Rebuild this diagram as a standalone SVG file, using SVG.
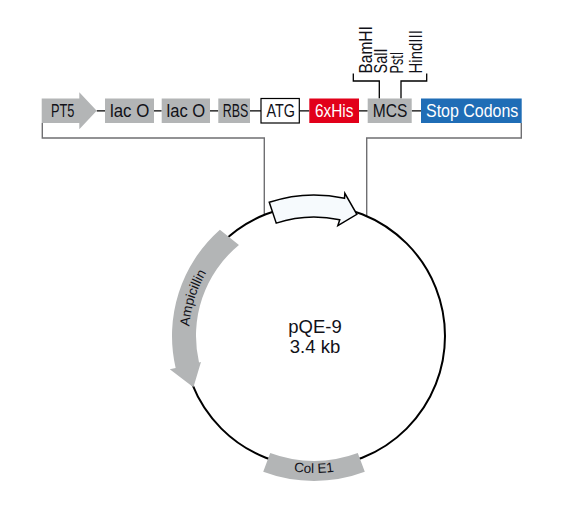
<svg xmlns="http://www.w3.org/2000/svg" width="576" height="529" viewBox="0 0 576 529">
<style>
.lbl{font-family:"Liberation Sans",Arial,sans-serif;font-size:17.5px;fill:#111118}
.wl{fill:#ffffff}
.gbox{fill:#b3b5b6}
.link{stroke:#000;stroke-width:1.3;fill:none}
.lead{stroke:#6f6f72;stroke-width:1.4;fill:none}
.band{fill:#b3b5b6}
.small{font-family:"Liberation Sans",Arial,sans-serif;font-size:13.5px;fill:#111118}
.center{font-family:"Liberation Sans",Arial,sans-serif;font-size:18.5px;fill:#111118}
</style>
<defs>
<path id="ampPath" d="M190.9,357.7 A125,125 0 0 1 225.61,247.61"/>
<path id="colPath" d="M256.1,460.16 A137,137 0 0 0 371.9,460.16"/>
</defs>
<rect width="576" height="529" fill="#ffffff"/>

<g id="connectors">
<path class="link" d="M96.7,110.8H105M154,110.8H161.7M210,110.8H218.3M250,110.8H261M299.3,110.8H309.3M359,110.8H367.7M411.7,110.8H421"/>
<path class="link" d="M353.3,73.5V81H379.3V98.5M401,98.5V81H426.7V73.5"/>
<path class="lead" d="M42.3,123V138H264.3V214.8"/>
<path class="lead" d="M521.3,123V138H366.7V216"/>
</g>

<g id="plasmid">
<circle cx="314" cy="336" r="131" fill="none" stroke="#000" stroke-width="2"/>
</g>

<g id="insert-arrow">
<path d="M269.26,202.29 A141,141 0 0 1 344.52,198.34 L344.85,193.3 L356.85,214.33 L337.88,225.55 L339.75,219.82 A119,119 0 0 0 276.24,223.15 Z" fill="#f6fafd" stroke="#000" stroke-width="1.5" stroke-linejoin="miter"/>
</g>

<g id="ampicillin">
<path class="band" d="M219.91,229.64 A142,142 0 0 0 175.64,367.95 L169.79,369.3 L193.41,387.18 L200.97,362.1 L199.02,362.55 A118,118 0 0 1 238.94,244.95 Z"/>
<text class="small" font-size="14"><textPath href="#ampPath" startOffset="50%" text-anchor="middle">Ampicillin</textPath></text>
</g>

<g id="colE1">
<path class="band" d="M270.22,453.09 A125,125 0 0 0 357.78,453.09 L364.78,471.82 A145,145 0 0 1 263.22,471.82 Z"/>
<text class="small"><textPath href="#colPath" startOffset="50%" text-anchor="middle">Col E1</textPath></text>
</g>

<g id="center-label">
<text class="center" x="315" y="333.3" text-anchor="middle">pQE-9</text>
<text class="center" x="315" y="353.3" text-anchor="middle">3.4 kb</text>
</g>

<g id="PT5">
<polygon class="gbox" points="41.7,98.5 79.3,98.5 79.3,92.3 96.7,110.8 79.3,129.3 79.3,123 41.7,123"/>
<text class="lbl" x="51" y="117.3" textLength="23.5" lengthAdjust="spacingAndGlyphs">PT5</text>
</g>

<g id="lacO1">
<rect class="gbox" x="105" y="98.5" width="49" height="24.5"/>
<text class="lbl" x="110" y="117.3" textLength="39.3" lengthAdjust="spacingAndGlyphs">lac O</text>
</g>

<g id="lacO2">
<rect class="gbox" x="161.7" y="98.5" width="48.3" height="24.5"/>
<text class="lbl" x="166.5" y="117.3" textLength="38.7" lengthAdjust="spacingAndGlyphs">lac O</text>
</g>

<g id="RBS">
<rect class="gbox" x="218.3" y="98.5" width="31.7" height="24.5"/>
<text class="lbl" x="222.7" y="117.3" textLength="25.6" lengthAdjust="spacingAndGlyphs">RBS</text>
</g>

<g id="ATG">
<rect x="261" y="98.5" width="38.3" height="24.5" fill="#ffffff" stroke="#000" stroke-width="1.2"/>
<text class="lbl" x="266.5" y="117.3" textLength="28.5" lengthAdjust="spacingAndGlyphs">ATG</text>
</g>

<g id="his6">
<rect x="309.3" y="98.5" width="49.7" height="24.5" fill="#e2001a"/>
<text class="lbl wl" x="315" y="117.3" textLength="38.3" lengthAdjust="spacingAndGlyphs">6xHis</text>
</g>

<g id="MCS">
<rect class="gbox" x="367.7" y="98.5" width="44" height="24.5"/>
<text class="lbl" x="372.7" y="117.3" textLength="34.6" lengthAdjust="spacingAndGlyphs">MCS</text>
</g>

<g id="stop-codons">
<rect x="421" y="98.5" width="100.7" height="24.5" fill="#1f6db6"/>
<text class="lbl wl" x="426" y="117.3" textLength="92.3" lengthAdjust="spacingAndGlyphs">Stop Codons</text>
</g>

<g id="sites">
<text class="lbl" transform="translate(371.5,73.5) rotate(-90)" textLength="47.3" lengthAdjust="spacingAndGlyphs">BamHI</text>
<text class="lbl" transform="translate(386.7,73.5) rotate(-90)" textLength="25" lengthAdjust="spacingAndGlyphs">SalI</text>
<text class="lbl" transform="translate(403.2,73.5) rotate(-90)" textLength="21.8" lengthAdjust="spacingAndGlyphs">PstI</text>
<text class="lbl" transform="translate(421.5,73.5) rotate(-90)" textLength="43.3" lengthAdjust="spacingAndGlyphs">HindIII</text>
</g>
</svg>
